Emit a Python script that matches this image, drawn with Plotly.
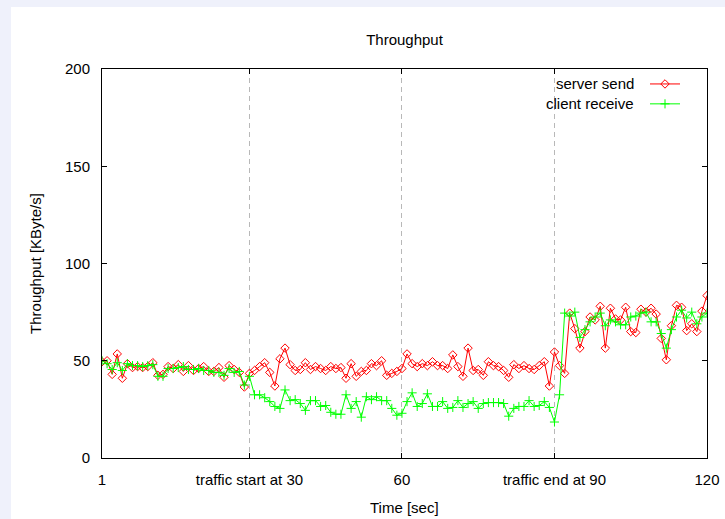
import plotly.graph_objects as go

# ---- data -------------------------------------------------------------
seconds = list(range(1, 121))

server_send = [
    49.5, 50, 43, 53.5, 41, 48.5, 46.5, 47, 46.5, 47,
    49, 42.5, 43, 47, 46, 48, 44.5, 47.5, 45, 46,
    47, 44.5, 44.5, 46.5, 41.5, 47.5, 45.5, 44, 36.5, 43.5,
    45, 47, 49, 44, 37, 51, 56.5, 48, 45, 45.5,
    49, 45.5, 47, 46, 45, 47, 46, 46.5, 41, 48.5,
    42, 44.5, 45, 48.5, 47.5, 50, 42.5, 43.5, 44.5, 46,
    53.5, 48.5, 47, 48.5, 47.5, 49.5, 47.5, 47.5, 46, 53,
    47, 42, 56.5, 45, 45.5, 42.5, 49.5, 47.5, 47, 45,
    41.5, 48, 46, 47.5, 46, 45.5, 47.5, 49.5, 37, 54.5,
    47.5, 43.5, 74.5, 66.5, 56.5, 65, 72.5, 71, 78, 56.5,
    77, 71.5, 71, 77.5, 65, 64.5, 76.5, 75, 77, 74,
    61.5, 50.5, 68, 78.5, 77.5, 65.5, 69, 65, 75.5, 83.5,
]

client_receive = [
    50, 48.5, 45.5, 49, 45, 48.5, 47.5, 47.5, 47, 47.5,
    48, 42, 42, 46, 46, 46.5, 47, 45.5, 45.5, 46,
    45, 45, 44, 44, 42.5, 46, 44, 44.5, 37.5, 42,
    32.5, 32.5, 31, 29, 26.5, 25.5, 35, 29.5, 30, 28,
    24.5, 29.5, 29.5, 26.5, 27, 23.5, 22.5, 22.5, 32.5, 25.5,
    29, 21, 31.5, 30, 31.5, 29.5, 29.5, 25.5, 22, 23,
    29, 33.5, 26.5, 28, 33, 26.5, 26.5, 29, 25.5, 26,
    29.5, 26, 28, 29, 25.5, 28, 28.5, 28.5, 28.5, 28,
    21.5, 25.5, 26.5, 26.5, 29.5, 26.5, 27, 29, 26, 18.5,
    32.5, 74.5, 73, 75, 62, 66, 70, 72.5, 74.5, 68,
    71, 70, 68.5, 68.5, 72.5, 73, 74.5, 75, 70, 70,
    64, 56.5, 66, 72.5, 76, 72, 75, 69, 72.5, 74.5,
]

series_names = ["server send", "client receive"]
x_tick_values = [1, 30, 60, 90, 120]
x_tick_labels = ["1", "traffic start at 30", "60", "traffic end at 90", "120"]
y_tick_values = [0, 50, 100, 150, 200]
x_title = "Time [sec]"
y_title = "Throughput [KByte/s]"

# ---- geometry -----------------------------------------------------------
W, H = 725, 519
ML, MR, MT, MB = 102, 18, 69, 61
PW = W - ML - MR
PH = H - MT - MB


def px_x(px):
    return (px - ML) / PW


def px_y(py):
    return (H - MB - py) / PH


FONT = "Liberation Sans, Arial, sans-serif"
RED = "#ff0000"
GREEN = "#00ff00"

fig = go.Figure()

fig.add_trace(go.Scatter(
    x=seconds, y=server_send, name=series_names[0], mode="lines+markers",
    line=dict(color=RED, width=1),
    marker=dict(symbol="diamond-open", size=6.5, color=RED, line=dict(width=1, color=RED)),
    showlegend=False,
))
fig.add_trace(go.Scatter(
    x=seconds, y=client_receive, name=series_names[1], mode="lines+markers",
    line=dict(color=GREEN, width=1),
    marker=dict(symbol="cross-thin-open", size=6.5, color=GREEN, line=dict(width=1, color=GREEN)),
    showlegend=False,
))

# legend keys (the key text is drawn to their left, gnuplot style)
fig.add_trace(go.Scatter(
    x=[None], y=[None], name="", mode="lines+markers",
    line=dict(color=RED, width=1),
    marker=dict(symbol="diamond-open", size=6.5, color=RED, line=dict(width=1, color=RED)),
    showlegend=True,
))
fig.add_trace(go.Scatter(
    x=[None], y=[None], name="", mode="lines+markers",
    line=dict(color=GREEN, width=1),
    marker=dict(symbol="cross-thin-open", size=6.5, color=GREEN, line=dict(width=1, color=GREEN)),
    showlegend=True,
))

annotations = []
for i, label in enumerate(series_names):
    annotations.append(dict(
        text=label, xref="paper", yref="paper",
        x=px_x(636), y=px_y(83 + 20 * i), xanchor="right", yanchor="middle",
        showarrow=False, font=dict(family=FONT, size=15, color="black"),
    ))
# x-axis title
annotations.append(dict(
    text=x_title, xref="paper", yref="paper", x=0.5, y=px_y(507),
    xanchor="center", yanchor="middle", showarrow=False,
    font=dict(family=FONT, size=15, color="black"),
))

fig.update_layout(
    width=W, height=H,
    margin=dict(l=ML, r=MR, t=MT, b=MB, pad=0, autoexpand=False),
    paper_bgcolor="#eff1fb",
    plot_bgcolor="white",
    font=dict(family=FONT, size=15, color="black"),
    title=dict(text="Throughput", x=0.5, xref="paper", y=1 - 40 / H,
               yanchor="middle", xanchor="center",
               font=dict(family=FONT, size=15, color="black")),
    showlegend=True,
    legend=dict(x=px_x(645), y=px_y(69), xanchor="left", yanchor="top",
                bgcolor="rgba(0,0,0,0)", borderwidth=0,
                font=dict(family=FONT, size=13), tracegroupgap=0,
                itemwidth=30),
    annotations=annotations,
    shapes=[dict(type="rect", xref="paper", yref="paper",
                 x0=px_x(11), x1=px_x(W + 5), y0=px_y(H + 5), y1=px_y(7),
                 fillcolor="white", line=dict(width=0), layer="below")],
)

fig.update_xaxes(
    range=[1, 120], tickvals=x_tick_values, ticktext=x_tick_labels,
    ticks="inside", ticklen=5, tickcolor="black", tickwidth=1,
    showline=True, linecolor="black", linewidth=1, mirror="allticks",
    showgrid=True, gridcolor="#b8b8b8", gridwidth=1, griddash="5px,4px",
    zeroline=False, ticklabelstandoff=8, automargin=False,
)
fig.update_yaxes(
    range=[0, 200], tickvals=y_tick_values,
    ticks="inside", ticklen=5, tickcolor="black", tickwidth=1,
    showline=True, linecolor="black", linewidth=1, mirror="allticks",
    showgrid=False, zeroline=False, ticklabelstandoff=8, automargin=False,
    title=dict(text=y_title, standoff=19, font=dict(family=FONT, size=15)),
)

fig.write_html("out.html")
